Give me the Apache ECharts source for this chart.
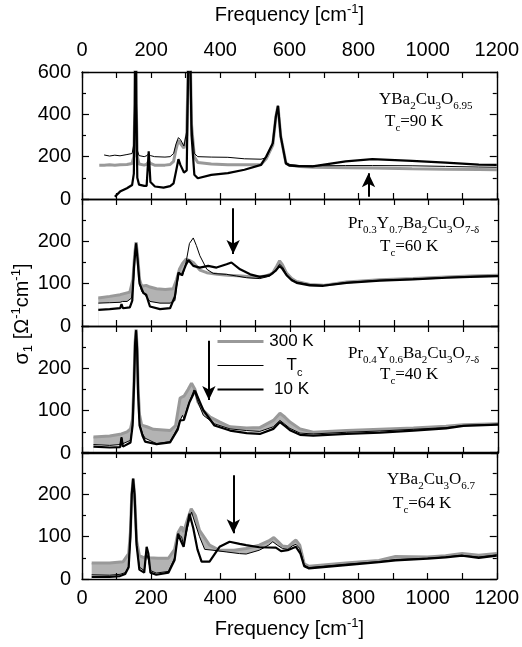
<!DOCTYPE html>
<html><head><meta charset="utf-8">
<script src="https://cdn.jsdelivr.net/npm/echarts@6/dist/echarts.min.js"></script>
<style>html,body{margin:0;padding:0;background:#fff}#c{width:522px;height:647px}</style>
</head><body><div id="c"></div>
<script>
// ---------- DATA (frequency [cm^-1], sigma_1 [Ohm^-1 cm^-1]) ----------
// Panel 1: YBa2Cu3O6.95
const P1_300K = [[50,160],[64,160],[80,162],[95,160],[110,162],[130,163],[145,168],[150,200],[153,450],[155,1000],[157,450],[160,200],[165,165],[180,160],[188,165],[193,178],[198,168],[210,160],[240,160],[255,163],[265,178],[272,235],[279,277],[285,262],[295,240],[303,300],[307,600],[310,1000],[313,700],[317,350],[325,200],[335,172],[374,165],[422,162],[470,162],[518,163],[533,190],[552,255],[561,390],[567,440],[575,296],[590,170],[600,160],[629,153],[667,150],[763,148],[840,146],[955,143],[1052,141],[1148,139],[1200,138]];
const P1_TC = [[64,208],[80,203],[95,207],[110,204],[130,210],[145,215],[150,260],[153,500],[155,1000],[157,500],[160,230],[165,205],[180,200],[188,205],[193,215],[198,205],[210,200],[240,198],[255,200],[265,215],[272,260],[279,290],[285,280],[295,250],[303,320],[307,600],[310,1000],[313,700],[317,350],[325,215],[335,200],[374,198],[422,197],[470,190],[518,188],[533,195],[552,260],[561,390],[567,440],[575,296],[590,172],[600,163],[629,158],[667,157],[763,158],[840,158],[955,157],[1052,154],[1148,151],[1200,150]];
const P1_10K = [[95,11],[110,35],[130,51],[145,66],[150,120],[153,450],[155,1000],[157,450],[160,100],[165,68],[180,62],[187,62],[193,225],[198,80],[211,59],[236,54],[255,61],[265,74],[272,130],[279,188],[285,160],[295,125],[303,135],[307,600],[310,1000],[313,700],[317,300],[325,115],[335,98],[374,114],[422,122],[470,138],[518,161],[533,201],[552,264],[561,390],[567,440],[575,296],[590,168],[600,158],[629,155],[667,154],[763,178],[840,188],[955,180],[1052,172],[1148,162],[1200,161]];
// Panel 2: Pr0.3Y0.7Ba2Cu3O7-d
const P2_300K = [[47,66],[80,70],[110,74],[138,80],[147,110],[152,170],[156,198],[160,170],[166,110],[172,94],[185,96],[196,92],[215,88],[240,86],[263,88],[273,110],[281,134],[290,148],[300,158],[310,155],[321,150],[340,132],[360,126],[390,122],[420,120],[460,118],[500,115],[530,118],[550,125],[562,142],[570,154],[578,145],[590,125],[605,112],[619,105],[657,98],[696,96],[763,104],[859,109],[955,112],[1052,116],[1120,118],[1200,120]];
const P2_TC = [[47,54],[80,55],[110,56],[117,58],[130,58],[143,66],[148,100],[152,170],[156,195],[160,165],[166,100],[172,82],[185,70],[196,58],[225,54],[254,54],[268,60],[273,94],[281,126],[290,118],[300,150],[310,195],[321,208],[330,190],[340,166],[360,134],[379,124],[417,122],[446,118],[475,114],[513,112],[542,118],[558,130],[570,146],[578,140],[590,122],[605,110],[619,104],[657,98],[696,96],[763,103],[859,108],[955,111],[1052,115],[1120,117],[1200,119]];
const P2_10K = [[47,38],[80,40],[110,42],[114,52],[118,42],[138,44],[145,60],[150,140],[156,195],[160,160],[166,100],[177,78],[185,74],[196,46],[225,40],[254,42],[268,70],[278,126],[288,120],[300,145],[307,156],[321,142],[340,138],[364,142],[388,138],[417,146],[431,150],[456,134],[485,122],[513,116],[542,120],[558,130],[570,142],[578,135],[590,120],[605,108],[619,102],[657,96],[696,95],[763,102],[859,107],[955,110],[1052,114],[1120,116],[1200,118]];
// Panel 3: Pr0.4Y0.6Ba2Cu3O7-d
const P3_300K = [[33,38],[80,40],[114,45],[130,50],[140,57],[146,80],[150,170],[153,260],[156,292],[159,250],[162,150],[166,90],[172,66],[187,62],[206,56],[254,53],[270,65],[283,130],[295,135],[306,150],[316,165],[326,150],[334,121],[350,100],[370,85],[398,73],[427,62],[475,59],[513,60],[552,77],[571,94],[585,85],[600,73],[629,57],[667,49],[763,53],[860,56],[956,59],[1050,63],[1100,67],[1200,69]];
const P3_TC = [[33,20],[80,18],[110,20],[114,37],[118,22],[140,30],[146,70],[150,165],[153,255],[156,290],[159,245],[162,140],[166,70],[175,45],[182,35],[215,22],[254,27],[276,60],[283,77],[290,89],[294,81],[305,110],[323,149],[334,121],[350,89],[382,69],[427,57],[475,53],[513,51],[552,62],[571,77],[585,68],[600,58],[629,47],[667,45],[763,49],[860,52],[956,56],[1050,60],[1100,65],[1200,68]];
const P3_10K = [[33,15],[80,13],[110,14],[114,37],[118,15],[140,25],[146,65],[150,160],[153,255],[156,290],[159,245],[162,140],[166,65],[175,40],[182,27],[215,21],[254,25],[276,55],[283,77],[294,78],[310,120],[326,147],[350,101],[382,65],[427,53],[475,47],[513,45],[552,57],[571,73],[585,64],[600,54],[629,43],[667,41],[763,45],[860,48],[956,53],[1050,58],[1100,64],[1200,67]];
// Panel 4: YBa2Cu3O6.7
const P4_300K = [[28,38],[80,38],[119,41],[135,60],[140,110],[144,200],[148,237],[152,200],[158,90],[166,55],[180,50],[187,55],[195,50],[220,49],[250,49],[268,70],[278,110],[288,124],[294,111],[305,140],[316,166],[328,150],[340,115],[369,80],[398,68],[440,68],[475,72],[513,80],[540,90],[555,98],[568,88],[580,78],[596,76],[608,85],[619,92],[630,80],[643,36],[657,30],[763,38],[859,44],[907,53],[1000,52],[1052,55],[1100,60],[1148,56],[1200,60]];
const P4_TC = [[28,10],[80,9],[110,11],[125,15],[135,30],[140,100],[144,200],[148,235],[152,200],[158,80],[166,28],[180,20],[187,60],[192,45],[198,20],[215,14],[250,18],[268,50],[278,105],[288,100],[294,80],[305,120],[317,158],[328,130],[340,100],[355,70],[379,68],[417,64],[456,60],[475,59],[513,68],[540,80],[552,88],[565,80],[580,72],[596,70],[608,78],[619,82],[630,72],[643,33],[657,27],[763,35],[859,41],[907,46],[1000,49],[1052,52],[1100,56],[1148,52],[1200,57]];
const P4_10K = [[28,5],[80,5],[110,7],[125,12],[135,28],[140,100],[144,200],[148,237],[152,200],[158,80],[166,22],[180,15],[187,76],[192,60],[198,15],[215,10],[250,15],[268,45],[278,107],[286,90],[294,76],[303,120],[311,154],[322,120],[334,70],[346,41],[369,41],[398,76],[427,88],[456,83],[475,80],[513,75],[561,74],[576,66],[595,68],[619,76],[632,60],[643,30],[657,25],[763,33],[859,40],[907,44],[1000,48],[1052,51],[1100,55],[1148,50],[1200,55]];
// Arrows: [frequency, sigma at tail, sigma at head]
const ARROWS = [[829, 11, 122], [436, 278, 170], [366, 265, 125], [438, 245, 108]];
// Axis settings
const X_MIN = 0, X_MAX = 1200, X_TICK = 100, X_LABEL_STEP = 200;
const Y_MAX = [600, 300, 300, 300];
const Y_TICK = [200, 100, 100, 100];
const SERIES_NAMES = ['300 K', 'Tc', '10 K'];

const PANELS = [
  {s300: P1_300K, tc: P1_TC, s10: P1_10K, shade: false},
  {s300: P2_300K, tc: P2_TC, s10: P2_10K, shade: true},
  {s300: P3_300K, tc: P3_TC, s10: P3_10K, shade: true},
  {s300: P4_300K, tc: P4_TC, s10: P4_10K, shade: true}
];

// ---------- LAYOUT ----------
const SANS = 'Liberation Sans';
const SERIF = 'Liberation Serif';
const GRID_TOPS = [72, 199, 326, 452];
const GRID_H = 127;
const LINE_W = [3, 1, 2.2];

const grids = GRID_TOPS.map(t => ({left: 82, width: 416, top: t, height: GRID_H}));
const axLine = {lineStyle: {color: '#000', width: 1.4}};
const tickStyle = {color: '#000', width: 1.2};
const titleRich = {
  a: {fontFamily: SANS, fontSize: 20, color: '#000', lineHeight: 24},
  sup: {fontFamily: SANS, fontSize: 13, color: '#000', lineHeight: 24, padding: [0, 0, 12, 0]}
};
const xAxes = [];
const yAxes = [];
GRID_TOPS.forEach((t, i) => {
  ['bottom', 'top'].forEach(pos => {
    const showLab = (pos === 'bottom' && i === 3) || (pos === 'top' && i === 0);
    xAxes.push({
      type: 'value', gridIndex: i, position: pos, min: X_MIN, max: X_MAX, interval: X_TICK, z: 10,
      axisLine: {onZero: false, ...axLine},
      axisTick: {inside: true, length: 6, lineStyle: tickStyle},
      splitLine: {show: false},
      axisLabel: {show: showLab, fontFamily: SANS, fontSize: 20, color: '#000', margin: pos === 'bottom' ? 9 : 12,
        formatter: v => (v % X_LABEL_STEP === 0 ? String(v) : '')},
      name: showLab ? '{a|Frequency [cm}{sup|-1}{a|]}' : '',
      nameLocation: 'middle', nameGap: pos === 'bottom' ? 38 : 45,
      nameTextStyle: {rich: titleRich}
    });
  });
  ['left', 'right'].forEach(pos => {
    yAxes.push({
      type: 'value', gridIndex: i, position: pos, min: 0, max: Y_MAX[i], interval: Y_TICK[i], z: 10,
      axisLine: {show: true, onZero: false, ...axLine},
      axisTick: {show: true, inside: true, length: 7, lineStyle: tickStyle},
      minorTick: {show: true, splitNumber: 2, length: 4, lineStyle: tickStyle},
      splitLine: {show: false},
      axisLabel: {show: pos === 'left', fontFamily: SANS, fontSize: 20, color: '#000', margin: 11,
        showMaxLabel: i === 0}
    });
  });
});

const series = [];
PANELS.forEach((p, i) => {
  const base = {type: 'line', xAxisIndex: 2 * i, yAxisIndex: 2 * i, symbol: 'none', showSymbol: false,
    animation: false, silent: true};
  if (p.shade) {
    series.push({...base, name: 'fill300', data: p.s300, lineStyle: {width: 0}, itemStyle: {color: '#b3b3b3'},
      areaStyle: {color: '#b3b3b3', opacity: 1}, z: 1});
    series.push({...base, name: 'fillTc', data: p.tc, lineStyle: {width: 0}, itemStyle: {color: '#fff'},
      areaStyle: {color: '#ffffff', opacity: 1}, z: 2});
  }
  series.push({...base, name: SERIES_NAMES[0], data: p.s300, color: '#999999',
    lineStyle: {color: '#999999', width: LINE_W[0]}, z: 3});
  const a = ARROWS[i];
  series.push({...base, name: SERIES_NAMES[2], data: p.s10, color: '#000',
    lineStyle: {color: '#000', width: LINE_W[2]}, z: 4,
    markLine: {silent: true, animation: false, symbol: ['none', 'arrow'], symbolSize: [10, 14],
      label: {show: false}, lineStyle: {color: '#000', width: 2, type: 'solid'},
      emphasis: {disabled: true},
      data: [[{coord: [a[0], a[1]]}, {coord: [a[0], a[2]]}]]}});
  series.push({...base, name: SERIES_NAMES[1], data: p.tc, color: '#000',
    lineStyle: {color: '#000', width: LINE_W[1]}, z: 5});
});

// Annotation texts
const serifRich = {
  m: {fontFamily: SERIF, fontSize: 17, color: '#000', lineHeight: 20},
  s: {fontFamily: SERIF, fontSize: 11, color: '#000', lineHeight: 20, padding: [13, 0, 0, 0]}
};
const NOTES = [
  [379, 88, '{m|YBa}{s|2}{m|Cu}{s|3}{m|O}{s|6.95}'],
  [385, 110, '{m|T}{s|c}{m|=90 K}'],
  [348, 212, '{m|Pr}{s|0.3}{m|Y}{s|0.7}{m|Ba}{s|2}{m|Cu}{s|3}{m|O}{s|7-δ}'],
  [380, 235, '{m|T}{s|c}{m|=60 K}'],
  [348, 342, '{m|Pr}{s|0.4}{m|Y}{s|0.6}{m|Ba}{s|2}{m|Cu}{s|3}{m|O}{s|7-δ}'],
  [380, 363, '{m|T}{s|c}{m|=40 K}'],
  [387, 468, '{m|YBa}{s|2}{m|Cu}{s|3}{m|O}{s|6.7}'],
  [393, 492, '{m|T}{s|c}{m|=64 K}']
];
const graphic = NOTES.map(n => ({type: 'text', left: n[0], top: n[1], z: 20, silent: true,
  style: {text: n[2], rich: serifRich}}));
graphic.push({type: 'text', x: 22, y: 314, rotation: Math.PI / 2, z: 20, silent: true,
  style: {text: '{a|σ}{sub|1}{a| [Ω}{sup|-1}{a|cm}{sup|-1}{a|]}', align: 'center', verticalAlign: 'middle',
    rich: {
      a: {fontFamily: SANS, fontSize: 20, color: '#000', lineHeight: 24},
      sub: {fontFamily: SANS, fontSize: 13, color: '#000', lineHeight: 24, padding: [12, 0, 0, 0]},
      sup: {fontFamily: SANS, fontSize: 13, color: '#000', lineHeight: 24, padding: [0, 0, 12, 0]}
    }}});

const chart = echarts.init(document.getElementById('c'), null, {renderer: 'canvas'});
chart.setOption({
  animation: false,
  backgroundColor: '#fff',
  grid: grids,
  xAxis: xAxes,
  yAxis: yAxes,
  series: series,
  graphic: graphic,
  legend: {
    orient: 'vertical', left: 216, top: 333, padding: 0, itemWidth: 46, itemHeight: 14, itemGap: 3,
    selectedMode: false,
    data: SERIES_NAMES.map((n, k) => ({name: n, lineStyle: {width: LINE_W[k]}})),
    itemStyle: {opacity: 0},
    formatter: n => (n === 'Tc' ? '{t|T}{s|c}' : '{n|' + n + '}'),
    textStyle: {rich: {
      n: {fontFamily: SANS, fontSize: 17, color: '#000', width: 46, align: 'center', lineHeight: 16},
      t: {fontFamily: SANS, fontSize: 17, color: '#000', lineHeight: 16, padding: [0, 0, 0, 18]},
      s: {fontFamily: SANS, fontSize: 11, color: '#000', lineHeight: 16, padding: [14, 0, 0, 0]}
    }}
  }
});
</script></body></html>
